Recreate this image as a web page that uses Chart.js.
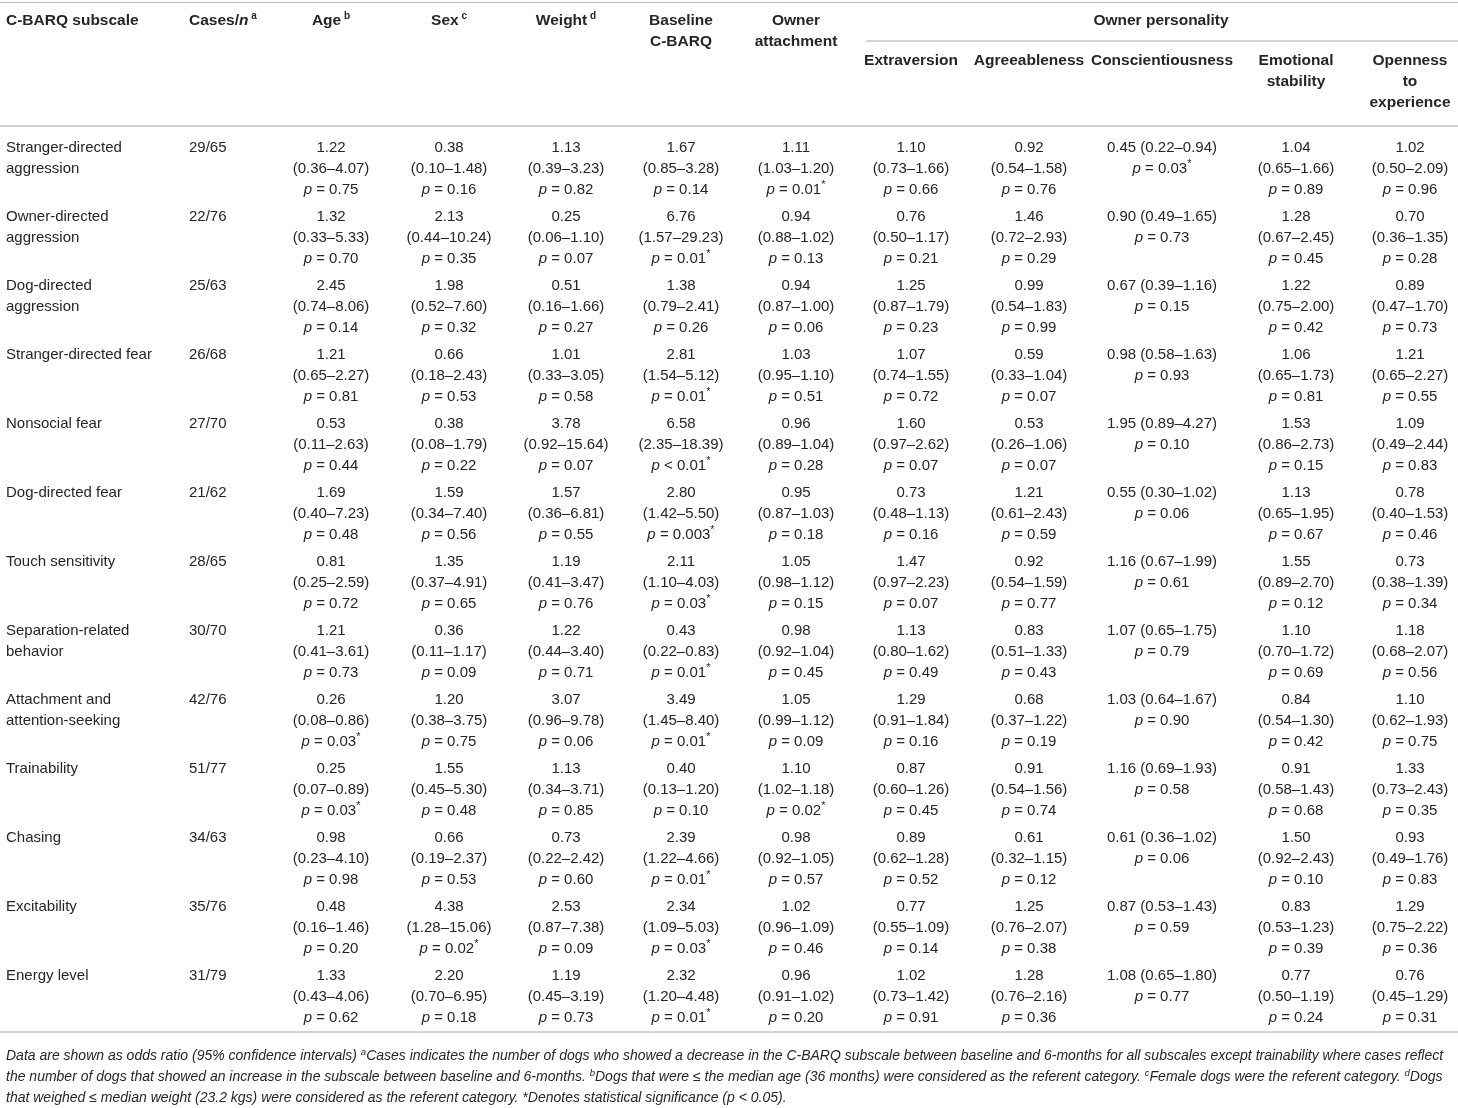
<!DOCTYPE html>
<html>
<head>
<meta charset="utf-8">
<script src="https://cdn.jsdelivr.net/npm/chart.js@4"></script>
<style>
  html, body { margin: 0; padding: 0; background: #fff; }
  canvas { display: block; }
</style>
</head>
<body>
<canvas id="tbl" width="1458" height="1108"></canvas>
<script>
// ---- table data ----
const subscales = [
  ["Stranger-directed", "aggression"],
  ["Owner-directed", "aggression"],
  ["Dog-directed", "aggression"],
  ["Stranger-directed fear"],
  ["Nonsocial fear"],
  ["Dog-directed fear"],
  ["Touch sensitivity"],
  ["Separation-related", "behavior"],
  ["Attachment and", "attention-seeking"],
  ["Trainability"],
  ["Chasing"],
  ["Excitability"],
  ["Energy level"]
];
const cases = ["29/65", "22/76", "25/63", "26/68", "27/70", "21/62", "28/65", "30/70", "42/76", "51/77", "34/63", "35/76", "31/79"];

// each cell: [odds ratio, 95% CI, p]
const age = [
  ["1.22", "0.36–4.07", "= 0.75"], ["1.32", "0.33–5.33", "= 0.70"], ["2.45", "0.74–8.06", "= 0.14"],
  ["1.21", "0.65–2.27", "= 0.81"], ["0.53", "0.11–2.63", "= 0.44"], ["1.69", "0.40–7.23", "= 0.48"],
  ["0.81", "0.25–2.59", "= 0.72"], ["1.21", "0.41–3.61", "= 0.73"], ["0.26", "0.08–0.86", "= 0.03*"],
  ["0.25", "0.07–0.89", "= 0.03*"], ["0.98", "0.23–4.10", "= 0.98"], ["0.48", "0.16–1.46", "= 0.20"],
  ["1.33", "0.43–4.06", "= 0.62"]
];
const sex = [
  ["0.38", "0.10–1.48", "= 0.16"], ["2.13", "0.44–10.24", "= 0.35"], ["1.98", "0.52–7.60", "= 0.32"],
  ["0.66", "0.18–2.43", "= 0.53"], ["0.38", "0.08–1.79", "= 0.22"], ["1.59", "0.34–7.40", "= 0.56"],
  ["1.35", "0.37–4.91", "= 0.65"], ["0.36", "0.11–1.17", "= 0.09"], ["1.20", "0.38–3.75", "= 0.75"],
  ["1.55", "0.45–5.30", "= 0.48"], ["0.66", "0.19–2.37", "= 0.53"], ["4.38", "1.28–15.06", "= 0.02*"],
  ["2.20", "0.70–6.95", "= 0.18"]
];
const weight = [
  ["1.13", "0.39–3.23", "= 0.82"], ["0.25", "0.06–1.10", "= 0.07"], ["0.51", "0.16–1.66", "= 0.27"],
  ["1.01", "0.33–3.05", "= 0.58"], ["3.78", "0.92–15.64", "= 0.07"], ["1.57", "0.36–6.81", "= 0.55"],
  ["1.19", "0.41–3.47", "= 0.76"], ["1.22", "0.44–3.40", "= 0.71"], ["3.07", "0.96–9.78", "= 0.06"],
  ["1.13", "0.34–3.71", "= 0.85"], ["0.73", "0.22–2.42", "= 0.60"], ["2.53", "0.87–7.38", "= 0.09"],
  ["1.19", "0.45–3.19", "= 0.73"]
];
const baseline = [
  ["1.67", "0.85–3.28", "= 0.14"], ["6.76", "1.57–29.23", "= 0.01*"], ["1.38", "0.79–2.41", "= 0.26"],
  ["2.81", "1.54–5.12", "= 0.01*"], ["6.58", "2.35–18.39", "< 0.01*"], ["2.80", "1.42–5.50", "= 0.003*"],
  ["2.11", "1.10–4.03", "= 0.03*"], ["0.43", "0.22–0.83", "= 0.01*"], ["3.49", "1.45–8.40", "= 0.01*"],
  ["0.40", "0.13–1.20", "= 0.10"], ["2.39", "1.22–4.66", "= 0.01*"], ["2.34", "1.09–5.03", "= 0.03*"],
  ["2.32", "1.20–4.48", "= 0.01*"]
];
const ownerAttachment = [
  ["1.11", "1.03–1.20", "= 0.01*"], ["0.94", "0.88–1.02", "= 0.13"], ["0.94", "0.87–1.00", "= 0.06"],
  ["1.03", "0.95–1.10", "= 0.51"], ["0.96", "0.89–1.04", "= 0.28"], ["0.95", "0.87–1.03", "= 0.18"],
  ["1.05", "0.98–1.12", "= 0.15"], ["0.98", "0.92–1.04", "= 0.45"], ["1.05", "0.99–1.12", "= 0.09"],
  ["1.10", "1.02–1.18", "= 0.02*"], ["0.98", "0.92–1.05", "= 0.57"], ["1.02", "0.96–1.09", "= 0.46"],
  ["0.96", "0.91–1.02", "= 0.20"]
];
const extraversion = [
  ["1.10", "0.73–1.66", "= 0.66"], ["0.76", "0.50–1.17", "= 0.21"], ["1.25", "0.87–1.79", "= 0.23"],
  ["1.07", "0.74–1.55", "= 0.72"], ["1.60", "0.97–2.62", "= 0.07"], ["0.73", "0.48–1.13", "= 0.16"],
  ["1.47", "0.97–2.23", "= 0.07"], ["1.13", "0.80–1.62", "= 0.49"], ["1.29", "0.91–1.84", "= 0.16"],
  ["0.87", "0.60–1.26", "= 0.45"], ["0.89", "0.62–1.28", "= 0.52"], ["0.77", "0.55–1.09", "= 0.14"],
  ["1.02", "0.73–1.42", "= 0.91"]
];
const agreeableness = [
  ["0.92", "0.54–1.58", "= 0.76"], ["1.46", "0.72–2.93", "= 0.29"], ["0.99", "0.54–1.83", "= 0.99"],
  ["0.59", "0.33–1.04", "= 0.07"], ["0.53", "0.26–1.06", "= 0.07"], ["1.21", "0.61–2.43", "= 0.59"],
  ["0.92", "0.54–1.59", "= 0.77"], ["0.83", "0.51–1.33", "= 0.43"], ["0.68", "0.37–1.22", "= 0.19"],
  ["0.91", "0.54–1.56", "= 0.74"], ["0.61", "0.32–1.15", "= 0.12"], ["1.25", "0.76–2.07", "= 0.38"],
  ["1.28", "0.76–2.16", "= 0.36"]
];
const conscientiousness = [
  ["0.45", "0.22–0.94", "= 0.03*"], ["0.90", "0.49–1.65", "= 0.73"], ["0.67", "0.39–1.16", "= 0.15"],
  ["0.98", "0.58–1.63", "= 0.93"], ["1.95", "0.89–4.27", "= 0.10"], ["0.55", "0.30–1.02", "= 0.06"],
  ["1.16", "0.67–1.99", "= 0.61"], ["1.07", "0.65–1.75", "= 0.79"], ["1.03", "0.64–1.67", "= 0.90"],
  ["1.16", "0.69–1.93", "= 0.58"], ["0.61", "0.36–1.02", "= 0.06"], ["0.87", "0.53–1.43", "= 0.59"],
  ["1.08", "0.65–1.80", "= 0.77"]
];
const emotionalStability = [
  ["1.04", "0.65–1.66", "= 0.89"], ["1.28", "0.67–2.45", "= 0.45"], ["1.22", "0.75–2.00", "= 0.42"],
  ["1.06", "0.65–1.73", "= 0.81"], ["1.53", "0.86–2.73", "= 0.15"], ["1.13", "0.65–1.95", "= 0.67"],
  ["1.55", "0.89–2.70", "= 0.12"], ["1.10", "0.70–1.72", "= 0.69"], ["0.84", "0.54–1.30", "= 0.42"],
  ["0.91", "0.58–1.43", "= 0.68"], ["1.50", "0.92–2.43", "= 0.10"], ["0.83", "0.53–1.23", "= 0.39"],
  ["0.77", "0.50–1.19", "= 0.24"]
];
const openness = [
  ["1.02", "0.50–2.09", "= 0.96"], ["0.70", "0.36–1.35", "= 0.28"], ["0.89", "0.47–1.70", "= 0.73"],
  ["1.21", "0.65–2.27", "= 0.55"], ["1.09", "0.49–2.44", "= 0.83"], ["0.78", "0.40–1.53", "= 0.46"],
  ["0.73", "0.38–1.39", "= 0.34"], ["1.18", "0.68–2.07", "= 0.56"], ["1.10", "0.62–1.93", "= 0.75"],
  ["1.33", "0.73–2.43", "= 0.35"], ["0.93", "0.49–1.76", "= 0.83"], ["1.29", "0.75–2.22", "= 0.36"],
  ["0.76", "0.45–1.29", "= 0.31"]
];

// header text: lines of [text, style]  (b = bold, bi = bold italic, sup = superscript)
const headerTexts = [
  [[["C-BARQ subscale", "b"]]],
  [[["Cases/", "b"], ["n", "bi"], [" a", "sup"]]],
  [[["Age", "b"], [" b", "sup"]]],
  [[["Sex", "b"], [" c", "sup"]]],
  [[["Weight", "b"], [" d", "sup"]]],
  [[["Baseline", "b"]], [["C-BARQ", "b"]]],
  [[["Owner", "b"]], [["attachment", "b"]]],
  [[["Extraversion", "b"]]],
  [[["Agreeableness", "b"]]],
  [[["Conscientiousness", "b"]]],
  [[["Emotional", "b"]], [["stability", "b"]]],
  [[["Openness", "b"]], [["to", "b"]], [["experience", "b"]]]
];
const groupHeader = "Owner personality";

const footnotes = [
  [["Data are shown as odds ratio (95% confidence intervals) ", "i"], ["a", "isup"], ["Cases indicates the number of dogs who showed a decrease in the C-BARQ subscale between baseline and 6-months for all subscales except trainability where cases reflect", "i"]],
  [["the number of dogs that showed an increase in the subscale between baseline and 6-months. ", "i"], ["b", "isup"], ["Dogs that were ≤ the median age (36 months) were considered as the referent category. ", "i"], ["c", "isup"], ["Female dogs were the referent category. ", "i"], ["d", "isup"], ["Dogs", "i"]],
  [["that weighed ≤ median weight (23.2 kgs) were considered as the referent category. *Denotes statistical significance (p < 0.05).", "i"]]
];

// ---- layout (pixel units of the x / y scales) ----
const colX = [6, 189, 331, 449, 566, 681, 796, 911, 1029, 1162, 1296, 1410];
const colAlign = ["left", "left", "center", "center", "center", "center", "center", "center", "center", "center", "center", "center"];
const headerY = [21, 21, 21, 21, 21, 21, 21, 61, 61, 61, 61, 61];
const groupY = 21, groupLineY = 41, groupLineX = 866;
const firstRowY = 148, rowPitch = 69, lineGap = 21;
const rules = [2.5, 126, 1032];
const footY = 1056, footGap = 21;

const FONT = "'Liberation Sans', Arial, sans-serif";
const fonts = {
  r: "15px " + FONT,
  i: "italic 15px " + FONT,
  b: "bold 15.5px " + FONT,
  bi: "bold italic 15.5px " + FONT,
  sup: "bold 10px " + FONT,
  rsup: "11px " + FONT,
  fi: "italic 14px " + FONT,
  fisup: "italic 9.5px " + FONT
};
const TEXT = "#262626";
const RULE = "#c6c6c6";

function pLine(p) {
  const runs = [["p", "i"], [" " + p.replace("*", ""), "r"]];
  if (p.endsWith("*")) runs.push(["*", "rsup"]);
  return runs;
}
function valueCell(c) {
  return [[[c[0], "r"]], [["(" + c[1] + ")", "r"]], pLine(c[2])];
}
function wideCell(c) {
  return [[[c[0] + " (" + c[1] + ")", "r"]], pLine(c[2])];
}

const valueColumns = [age, sex, weight, baseline, ownerAttachment, extraversion, agreeableness, conscientiousness, emotionalStability, openness];
const cellColumns = [
  subscales.map(s => s.map(t => [[t, "r"]])),
  cases.map(c => [[[c, "r"]]])
].concat(valueColumns.map(col => col.map(col === conscientiousness ? wideCell : valueCell)));

const datasets = cellColumns.map((cells, ci) => ({
  label: "col" + ci,
  cells: cells,
  align: colAlign[ci],
  data: cells.map((_, ri) => ({ x: colX[ci], y: firstRowY + ri * rowPitch })),
  pointRadius: 0,
  pointHoverRadius: 0,
  showLine: false
}));

function drawRuns(ctx, runs, x, y, align, isFoot) {
  const pick = s => isFoot ? (s === "isup" ? fonts.fisup : fonts.fi) : fonts[s];
  let total = 0;
  runs.forEach(r => { ctx.font = pick(r[1]); total += ctx.measureText(r[0]).width; });
  let cx = align === "center" ? x - total / 2 : x;
  runs.forEach(r => {
    ctx.font = pick(r[1]);
    const up = (r[1] === "sup" || r[1] === "rsup") ? -5 : (r[1] === "isup" ? -4 : 0);
    ctx.fillText(r[0], cx, y + up);
    cx += ctx.measureText(r[0]).width;
  });
}

const tablePlugin = {
  id: "tableText",
  afterDatasetsDraw(chart) {
    const ctx = chart.ctx;
    const xs = chart.scales.x, ys = chart.scales.y;
    const gap = ys.getPixelForValue(lineGap) - ys.getPixelForValue(0);
    ctx.save();
    ctx.textBaseline = "middle";
    ctx.textAlign = "left";
    ctx.fillStyle = TEXT;

    // horizontal rules
    ctx.strokeStyle = RULE;
    ctx.lineWidth = 1.6;
    rules.forEach(v => {
      const py = ys.getPixelForValue(v);
      ctx.beginPath();
      ctx.moveTo(xs.getPixelForValue(0), py);
      ctx.lineTo(xs.getPixelForValue(1458), py);
      ctx.stroke();
    });
    const gy = ys.getPixelForValue(groupLineY);
    ctx.beginPath();
    ctx.moveTo(xs.getPixelForValue(groupLineX), gy);
    ctx.lineTo(xs.getPixelForValue(1458), gy);
    ctx.stroke();

    // headers
    headerTexts.forEach((lines, ci) => {
      lines.forEach((runs, j) => {
        drawRuns(ctx, runs, xs.getPixelForValue(colX[ci]), ys.getPixelForValue(headerY[ci]) + j * gap, colAlign[ci]);
      });
    });
    drawRuns(ctx, [[groupHeader, "b"]], xs.getPixelForValue(1161), ys.getPixelForValue(groupY), "center");

    // body cells, positioned on each dataset point
    chart.data.datasets.forEach((ds, di) => {
      const meta = chart.getDatasetMeta(di);
      meta.data.forEach((pt, ri) => {
        ds.cells[ri].forEach((runs, j) => drawRuns(ctx, runs, pt.x, pt.y + j * gap, ds.align));
      });
    });

    // footnote
    footnotes.forEach((runs, j) => {
      drawRuns(ctx, runs, xs.getPixelForValue(6), ys.getPixelForValue(footY + j * footGap), "left", true);
    });
    ctx.restore();
  }
};

new Chart(document.getElementById("tbl"), {
  type: "scatter",
  data: { datasets: datasets },
  options: {
    responsive: false,
    animation: false,
    devicePixelRatio: 1,
    layout: { padding: 0 },
    plugins: { legend: { display: false }, tooltip: { enabled: false } },
    events: [],
    scales: {
      x: { type: "linear", min: 0, max: 1458, display: false },
      y: { type: "linear", min: 0, max: 1108, reverse: true, display: false }
    }
  },
  plugins: [tablePlugin]
});
</script>
</body>
</html>
